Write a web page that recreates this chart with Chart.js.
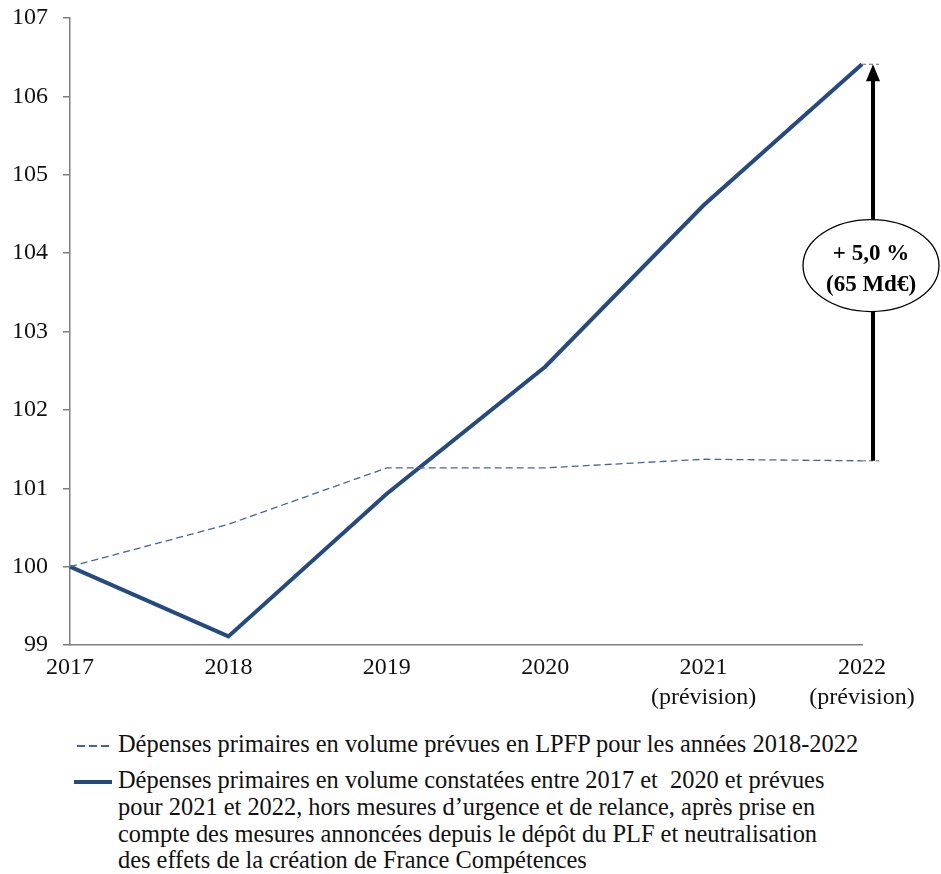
<!DOCTYPE html>
<html lang="fr">
<head>
<meta charset="utf-8">
<script src="https://cdn.jsdelivr.net/npm/chart.js@4.4.0/dist/chart.umd.min.js"></script>
<style>
  body { margin: 0; background: #fff; width: 941px; height: 874px; overflow: hidden; position: relative; }
  #wrap { position: absolute; left: 0; top: 0; width: 941px; height: 720px; }
  .legend { position: absolute; left: 0; top: 731px; font-family: "Liberation Serif", serif; font-size: 24.4px; color: #111; }
  .item { position: absolute; left: 118px; white-space: pre; line-height: 26.8px; }
  .swatch { position: absolute; left: -41px; top: 14px; width: 35px; }
  .dash { height: 1.5px; background: repeating-linear-gradient(to right, #44659a 0 8px, transparent 8px 12px); }
  .solid { height: 4px; background: #264a7d; left: -44px; top: 13px; width: 38px; }
</style>
</head>
<body>
<div id="wrap"><canvas id="myLineChart" width="941" height="720"></canvas></div>
<div class="legend">
  <div class="item" id="leg1" style="top:0px"><span class="swatch dash"></span></div>
  <div class="item" id="leg2" style="top:36px"><span class="swatch solid"></span></div>
</div>
<script>
// years on the x axis
var years = [['2017'], ['2018'], ['2019'], ['2020'], ['2021', '(prévision)'], ['2022', '(prévision)']];

// primary spending in volume, base 100 in 2017
var lpfp = [100, 100.54, 101.26, 101.26, 101.37, 101.35];
var constatees = [100, 99.11, 100.93, 102.55, 104.61, 106.41];

var yTicks = [99, 100, 101, 102, 103, 104, 105, 106, 107];

var lpfpLabel = 'Dépenses primaires en volume prévues en LPFP pour les années 2018-2022';
var constateesLabel = [
    'Dépenses primaires en volume constatées entre 2017 et  2020 et prévues',
    'pour 2021 et 2022, hors mesures d’urgence et de relance, après prise en',
    'compte des mesures annoncées depuis le dépôt du PLF et neutralisation',
    'des effets de la création de France Compétences'
];
var gapLabel = ['+ 5,0 %', '(65 Md€)'];

// legend below the chart
document.getElementById('leg1').appendChild(document.createTextNode(lpfpLabel));
var leg2 = document.getElementById('leg2');
constateesLabel.forEach(function (line, i) {
    if (i > 0) leg2.appendChild(document.createElement('br'));
    leg2.appendChild(document.createTextNode(line));
});

// arrow + ellipse between the two 2022 values
var gapArrow = {
    id: 'gapArrow',
    afterDatasetsDraw: function (chart) {
        var ctx = chart.ctx;
        var xs = chart.scales.x, ys = chart.scales.y;
        var last = years.length - 1;
        var x0 = xs.getPixelForValue(last);
        var ax = x0 + 11;
        var yTop = ys.getPixelForValue(constatees[last]);
        var yBot = ys.getPixelForValue(lpfp[last]);

        ctx.save();
        // thin dashed leaders
        ctx.strokeStyle = '#666';
        ctx.lineWidth = 1;
        ctx.setLineDash([4, 3]);
        ctx.beginPath();
        ctx.moveTo(x0, yTop); ctx.lineTo(ax + 6, yTop);
        ctx.moveTo(x0, yBot); ctx.lineTo(ax + 6, yBot);
        ctx.stroke();
        ctx.setLineDash([]);

        // shaft
        ctx.strokeStyle = '#000';
        ctx.lineWidth = 4;
        ctx.beginPath();
        ctx.moveTo(ax, yBot);
        ctx.lineTo(ax, yTop + 14);
        ctx.stroke();
        // head
        ctx.fillStyle = '#000';
        ctx.beginPath();
        ctx.moveTo(ax, yTop);
        ctx.lineTo(ax - 7, yTop + 17);
        ctx.lineTo(ax + 7, yTop + 17);
        ctx.closePath();
        ctx.fill();

        // ellipse label
        var cy = (yTop + yBot) / 2 + 3;
        ctx.beginPath();
        ctx.ellipse(ax - 2, cy, 68, 46, 0, 0, Math.PI * 2);
        ctx.fillStyle = '#fff';
        ctx.fill();
        ctx.lineWidth = 1.3;
        ctx.strokeStyle = '#000';
        ctx.stroke();

        ctx.fillStyle = '#000';
        ctx.font = 'bold 23px "Liberation Serif", serif';
        ctx.textAlign = 'center';
        ctx.textBaseline = 'middle';
        ctx.fillText(gapLabel[0], ax - 2, cy - 11);
        ctx.fillText(gapLabel[1], ax - 2, cy + 20);
        ctx.restore();
    }
};

var ctx = document.getElementById('myLineChart').getContext('2d');
var myLineChart = new Chart(ctx, {
    type: 'line',
    data: {
        labels: years,
        datasets: [{
            label: lpfpLabel,
            data: lpfp,
            borderColor: '#44659a',
            borderWidth: 1.3,
            borderDash: [7, 4],
            pointRadius: 0,
            tension: 0
        }, {
            label: constateesLabel.join(' '),
            data: constatees,
            borderColor: '#264a7d',
            borderWidth: 4,
            pointRadius: 0,
            tension: 0
        }]
    },
    options: {
        responsive: false,
        animation: false,
        layout: {
            padding: { top: 0, right: 79, bottom: 0, left: 0 }
        },
        plugins: {
            legend: { display: false },
            tooltip: { enabled: false }
        },
        scales: {
            x: {
                offset: false,
                grid: { display: false },
                border: { display: true, color: '#7f7f7f', width: 1.5 },
                ticks: {
                    color: '#111',
                    maxRotation: 0,
                    autoSkip: false,
                    padding: 0,
                    font: { family: '"Liberation Serif", serif', size: 24, lineHeight: 1.25 }
                },
                afterFit: function (scale) { scale.height = 75; }
            },
            y: {
                min: yTicks[0],
                max: yTicks[yTicks.length - 1],
                afterBuildTicks: function (scale) {
                    scale.ticks = yTicks.map(function (v) { return { value: v }; });
                },
                grid: {
                    drawOnChartArea: false,
                    drawTicks: true,
                    tickLength: 7,
                    color: '#7f7f7f',
                    lineWidth: 1.5
                },
                border: { display: true, color: '#7f7f7f', width: 1.5 },
                ticks: {
                    color: '#111',
                    padding: 15,
                    font: { family: '"Liberation Serif", serif', size: 24 }
                },
                afterFit: function (scale) {
                    scale.width = 70;
                    scale.paddingTop = 18;
                }
            }
        }
    },
    plugins: [gapArrow]
});
</script>
</body>
</html>
